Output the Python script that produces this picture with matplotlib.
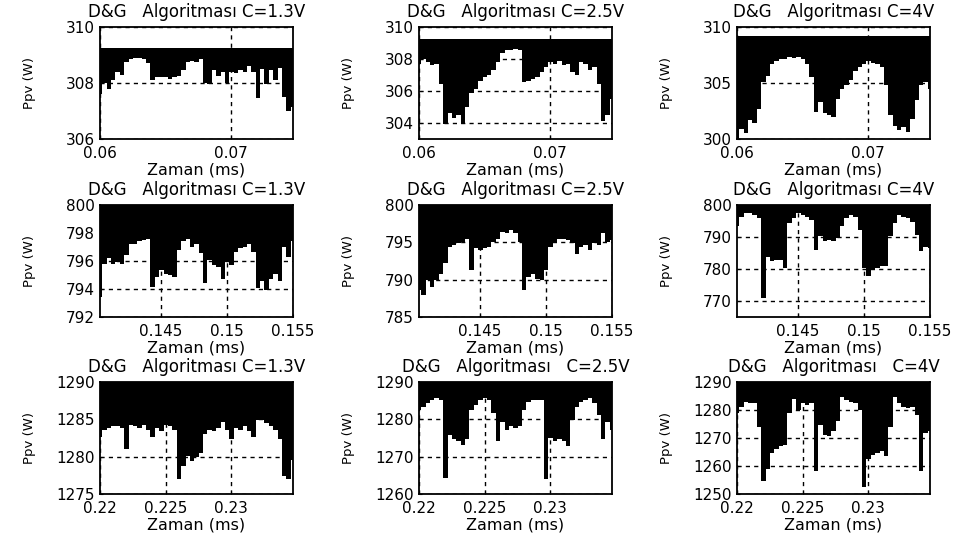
import numpy as np
import matplotlib.pyplot as plt

plt.rcParams['font.family'] = ['DejaVu Sans']
plt.rcParams['font.size'] = 11

# time windows of the three rows (ms)
t_rows = [(0.06, 0.0747), (0.1404, 0.155), (0.22, 0.2347)]
xticks_rows = [[0.06, 0.07], [0.145, 0.15, 0.155], [0.22, 0.225, 0.23]]
xticklabels_rows = [['0.06', '0.07'], ['0.145', '0.15', '0.155'], ['0.22', '0.225', '0.23']]

cap_values = ['1.3V', '2.5V', '4V']

ylims = [
    [(306, 310), (303, 310), (300, 310)],
    [(792, 800), (785, 800), (765, 800)],
    [(1275, 1290), (1260, 1290), (1250, 1290)],
]
yticks = [
    [[306, 308, 310], [304, 306, 308, 310], [300, 305, 310]],
    [[792, 794, 796, 798, 800], [785, 790, 795, 800], [770, 780, 790, 800]],
    [[1275, 1280, 1285, 1290], [1260, 1270, 1280, 1290], [1250, 1260, 1270, 1280, 1290]],
]

# upper level of the PV power oscillation (W)
p_top = [
    [309.25, 309.27, 309.2],
    [800.0, 800.0, 800.0],
    [1290.0, 1290.0, 1290.0],
]

# lower swing of the PV power (W)
p_low_r1c1 = [307.6, 308.0, 307.8, 308.1, 308.4, 308.3, 308.75, 308.85, 308.9, 308.9,
              308.85, 308.7, 308.1, 308.2, 308.2, 308.2, 308.15, 308.2, 308.25, 308.45,
              308.75, 308.8, 308.75, 308.85, 308.0, 307.95, 308.45, 308.25, 308.4, 308.0,
              308.4, 308.35, 308.45, 308.4, 308.6, 308.4, 307.45, 308.5, 307.95, 308.45,
              308.1, 308.55, 307.5, 307.0, 307.15]
p_low_r1c2 = [307.7, 308.0, 307.8, 307.6, 307.7, 306.45, 303.95, 304.6, 304.3, 304.5,
              303.95, 305.0, 305.85, 306.15, 306.65, 306.9, 307.0, 307.3, 307.8, 308.35,
              308.55, 308.55, 308.65, 308.55, 306.55, 306.65, 306.75, 306.9, 307.2, 307.5,
              307.8, 307.7, 307.9, 307.6, 307.7, 307.2, 307.0, 307.8, 307.7, 307.3,
              307.5, 306.45, 304.15, 304.5, 305.5]
p_low_r1c3 = [300.0, 300.9, 300.5, 301.7, 301.4, 302.7, 305.1, 305.6, 306.7, 307.0,
              307.1, 307.1, 307.3, 307.2, 307.3, 307.1, 306.7, 305.5, 302.4, 303.3,
              302.3, 302.1, 302.0, 303.6, 304.5, 304.8, 305.3, 306.1, 306.4, 306.7,
              307.0, 306.8, 306.7, 306.4, 304.8, 302.1, 301.2, 300.8, 301.1, 300.6,
              301.8, 303.5, 304.8, 305.1, 304.5]
p_low_r2c1 = [793.45, 795.8, 796.2, 795.8, 795.95, 795.8, 796.4, 797.25, 797.25, 797.4,
              797.5, 797.6, 794.15, 794.85, 795.35, 795.1, 795.0, 794.85, 796.8, 797.4,
              797.6, 797.0, 797.25, 796.55, 794.4, 796.05, 795.7, 795.6, 794.75, 795.95,
              795.7, 796.65, 796.9, 797.0, 797.25, 796.65, 794.05, 794.6, 793.9, 794.75,
              795.1, 794.6, 797.0, 796.3, 797.4]
p_low_r2c2 = [788.6, 787.9, 789.9, 789.0, 789.9, 790.8, 792.2, 794.4, 794.6, 794.85,
              795.05, 795.5, 791.3, 794.2, 793.95, 794.2, 794.4, 795.05, 795.5, 796.4,
              796.2, 796.6, 796.2, 795.05, 788.6, 790.4, 790.8, 790.15, 789.9, 791.3,
              794.4, 794.85, 795.5, 795.5, 795.3, 794.85, 793.5, 794.4, 794.6, 793.95,
              794.85, 794.6, 796.2, 795.05, 795.3]
p_low_r2c3 = [793.3, 796.4, 797.4, 797.4, 796.9, 795.9, 771.0, 783.9, 782.4, 782.9,
              782.9, 780.3, 794.3, 795.9, 797.4, 796.9, 796.4, 795.3, 786.0, 790.2,
              788.6, 789.1, 788.6, 789.6, 793.3, 795.9, 796.9, 796.4, 792.2, 780.3,
              777.7, 779.8, 780.3, 780.8, 780.8, 790.2, 794.3, 796.9, 796.4, 795.9,
              794.8, 790.7, 785.5, 787.0, 786.5]
p_low_r3c1 = [1282.7, 1283.6, 1283.8, 1284.05, 1284.05, 1283.8, 1281.0, 1284.3, 1284.05, 1283.8,
              1284.3, 1283.6, 1282.7, 1283.8, 1283.4, 1284.3, 1284.05, 1283.6, 1277.0, 1278.8,
              1280.1, 1279.4, 1279.9, 1280.5, 1283.0, 1283.6, 1283.4, 1283.8, 1284.7, 1283.6,
              1282.3, 1283.8, 1283.6, 1284.05, 1283.4, 1282.7, 1284.9, 1284.9, 1284.5, 1284.05,
              1283.6, 1282.3, 1277.4, 1277.0, 1279.6]
p_low_r3c2 = [1282.5, 1283.4, 1284.3, 1285.1, 1285.6, 1285.1, 1264.4, 1275.9, 1274.6, 1274.1,
              1273.2, 1274.6, 1282.5, 1283.8, 1285.1, 1285.6, 1285.1, 1281.6, 1274.1, 1279.4,
              1277.2, 1278.1, 1277.6, 1278.1, 1282.5, 1284.7, 1285.1, 1285.1, 1285.1, 1264.0,
              1275.0, 1274.1, 1274.6, 1274.1, 1272.8, 1279.85, 1283.4, 1284.7, 1285.1, 1285.6,
              1284.3, 1281.2, 1274.6, 1279.4, 1277.2]
p_low_r3c3 = [1278.8, 1281.2, 1282.9, 1282.35, 1282.35, 1274.1, 1254.7, 1258.8, 1264.7, 1265.9,
              1267.1, 1267.6, 1278.8, 1284.1, 1280.0, 1282.35, 1281.8, 1282.35, 1258.2, 1274.7,
              1271.2, 1270.6, 1272.4, 1275.9, 1284.7, 1283.5, 1282.9, 1282.35, 1280.0, 1252.4,
              1262.4, 1264.1, 1264.7, 1265.3, 1263.5, 1274.1, 1284.7, 1282.35, 1281.2, 1280.6,
              1281.2, 1278.2, 1258.2, 1271.8, 1272.4]

p_low = [
    [p_low_r1c1, p_low_r1c2, p_low_r1c3],
    [p_low_r2c1, p_low_r2c2, p_low_r2c3],
    [p_low_r3c1, p_low_r3c2, p_low_r3c3],
]

W, H = 957, 541
fig = plt.figure(figsize=(W / 100, H / 100), dpi=100)

col_left = [100, 419, 737]
row_top = [27, 205, 382]
ax_w, ax_h = 193, 112

for r in range(3):
    for c in range(3):
        ax = fig.add_axes([col_left[c] / W, 1 - (row_top[r] + ax_h) / H, ax_w / W, ax_h / H])
        low = np.array(p_low[r][c])
        t0, t1 = t_rows[r]
        t = np.linspace(t0, t1, len(low))
        ax.fill_between(t, low, p_top[r][c], step='mid', color='k', lw=0, zorder=2)

        ax.set_xlim(t0, t1)
        ax.set_ylim(*ylims[r][c])
        ax.set_xticks(xticks_rows[r])
        ax.set_xticklabels(xticklabels_rows[r])
        ax.set_yticks(yticks[r][c])
        ax.set_yticklabels([str(v) for v in yticks[r][c]])

        ax.set_axisbelow(True)
        ax.grid(True, color='k', lw=1.0, linestyle=(0, (3, 3)))
        ax.tick_params(direction='in', length=2, pad=4, labelsize=11)
        ax.tick_params(axis='x', pad=5)
        for s in ax.spines.values():
            s.set_linewidth(1.3)
            s.set_zorder(3)

        gap = '   ' if (r == 2 and c > 0) else ' '
        ax.set_title('D&G   Algoritması' + gap + 'C=' + cap_values[c], pad=7, fontsize=12)
        ax.set_xlabel('Zaman (ms)', labelpad=1, fontsize=11.5)
        ax.set_ylabel('Ppv (W)', fontsize=9.5)
        ax.yaxis.set_label_coords(-0.33, 0.5)

fig.savefig('out.png', dpi=100)
